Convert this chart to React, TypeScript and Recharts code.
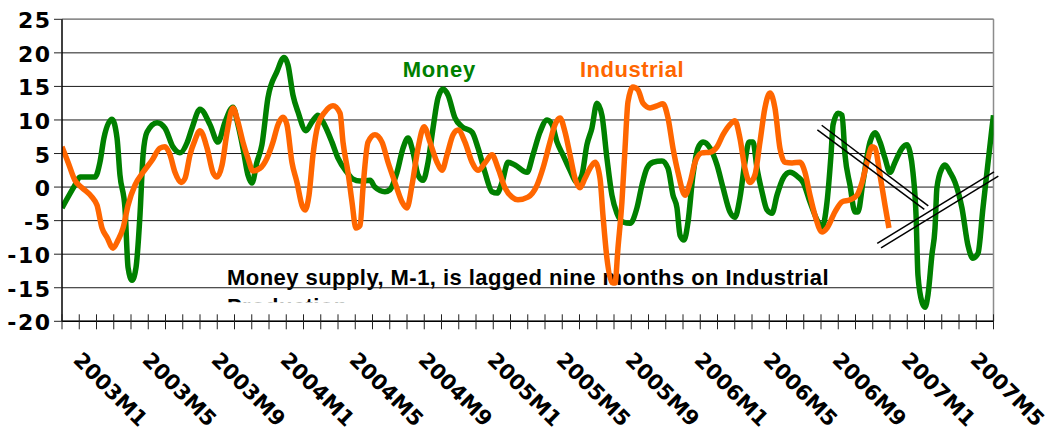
import React from "react";
import { CartesianGrid, Line, LineChart, ReferenceLine, XAxis, YAxis } from "recharts";

// x = months from the left edge of the plot (2003M1 sits at 0.5), y = % change
const monthLabels = [
  "2003M1", "2003M5", "2003M9", "2004M1", "2004M5", "2004M9", "2005M1",
  "2005M5", "2005M9", "2006M1", "2006M5", "2006M9", "2007M1", "2007M5",
];
const monthCount = 54;
const yTicks = [-20, -15, -10, -5, 0, 5, 10, 15, 20, 25];

const money: [number, number][] = [
  [0, -3.1], [0.75, 0.3], [1.04, 1.5], [1.91, 1.5], [2.2, 3.7], [2.43, 7.3], [2.9, 10.1],
  [3.19, 7.3], [3.36, 1.8], [3.65, -3.1], [3.83, -12], [4.06, -13.9], [4.29, -12], [4.52, -4.2],
  [4.7, 4.8], [4.93, 8.2], [5.51, 9.6], [5.97, 8.8], [6.43, 6.0], [6.84, 5.1], [7.25, 6.6],
  [7.54, 8.8], [8.0, 11.6], [8.58, 9.3], [9.04, 6.7], [9.45, 9.7], [9.91, 11.9], [10.2, 9.3],
  [10.49, 5.8], [10.78, 1.8], [11.01, 0.6], [11.3, 3.7], [11.59, 6.3], [11.94, 13.3], [12.46, 17.2],
  [12.87, 19.3], [13.1, 18.2], [13.39, 13.7], [13.68, 11.2], [14.14, 8.4], [14.49, 9.7], [14.84, 10.7],
  [15.13, 9.7], [15.65, 6.7], [16.0, 4.3], [16.52, 2.2], [16.87, 1.2], [17.28, 0.9], [17.86, 1.0],
  [18.14, 0], [18.72, -0.7], [19.01, -0.4], [19.42, 2.2], [19.77, 5.8], [20.06, 7.3], [20.35, 5.2],
  [20.64, 1.8], [20.93, 1.0], [21.22, 3.7], [21.51, 8.8], [21.8, 13.3], [22.09, 14.6], [22.38, 13.7],
  [22.78, 10.3], [23.19, 9.0], [23.77, 8.2], [24.12, 5.8], [24.52, 2.2], [24.93, -0.7], [25.22, -0.9],
  [25.51, 0.7], [25.86, 3.7], [26.26, 3.3], [26.96, 2.2], [27.3, 4.8], [27.71, 8.2], [28.12, 10.0],
  [28.41, 9.3], [28.7, 6.7], [29.04, 4.8], [29.45, 2.5], [29.86, 0.7], [30.14, 1.8], [30.43, 6.3],
  [30.72, 8.8], [31.01, 12.5], [31.3, 10.7], [31.59, 4.3], [31.88, -1.2], [32.17, -3.9], [32.52, -5.2],
  [32.93, -5.4], [33.33, -3.1], [33.62, 0.3], [33.91, 2.8], [34.26, 3.7], [34.78, 3.9], [35.13, 2.8],
  [35.42, -1.2], [35.65, -3.1], [35.83, -7.2], [36.06, -7.9], [36.29, -5.2], [36.58, 1.8], [36.87, 5.8],
  [37.16, 6.7], [37.57, 5.8], [37.97, 3.3], [38.32, -0.1], [38.72, -3.7], [39.01, -4.5], [39.3, -1.6],
  [39.59, 3.7], [39.83, 6.7], [40.06, 6.7], [40.29, 2.8], [40.58, -0.7], [40.87, -3.4], [41.16, -3.9],
  [41.45, -1.2], [41.8, 1.3], [42.2, 2.2], [42.67, 1.5], [42.96, 0.7], [43.36, -2.2], [43.77, -4.9],
  [44.06, -6.0], [44.35, -2.2], [44.58, 4.8], [44.7, 9.3], [44.99, 11.0], [45.22, 10.7], [45.39, 4.8],
  [45.68, 0.3], [45.97, -3.7], [46.14, -3.7], [46.43, 0.7], [46.84, 6.7], [47.13, 8.1], [47.42, 6.7],
  [47.71, 4.3], [48.0, 2.2], [48.29, 3.7], [48.7, 5.8], [48.99, 6.3], [49.16, 5.2], [49.33, 2.2],
  [49.51, -4.2], [49.62, -13.1], [49.86, -17.2], [50.03, -17.9], [50.2, -16.1], [50.43, -10.1], [50.61, -6.1],
  [50.72, -0.1], [51.01, 2.8], [51.19, 3.3], [51.48, 2.2], [51.77, 0.7], [52.17, -3.1], [52.52, -8.7],
  [52.81, -10.6], [53.1, -9.9], [53.39, -3.1], [53.62, 2.2], [53.91, 8.8], [54.0, 10.7],
];

const industrial: [number, number][] = [
  [0, 6.0], [0.35, 3.7], [0.75, 1.0], [1.16, -0.1], [1.74, -1.5], [2.03, -2.7], [2.32, -6.1],
  [2.61, -7.5], [2.96, -9.1], [3.25, -7.9], [3.54, -6.1], [3.83, -2.7], [4.23, 0.3], [4.7, 2.2],
  [5.22, 4.0], [5.68, 5.8], [5.97, 6.0], [6.26, 4.8], [6.55, 2.2], [6.9, 0.7], [7.13, 1.3],
  [7.42, 4.8], [7.71, 7.0], [8.0, 8.4], [8.41, 5.8], [8.75, 2.2], [8.99, 1.5], [9.28, 3.3],
  [9.57, 8.2], [9.91, 11.8], [10.2, 9.7], [10.49, 6.7], [10.78, 4.3], [11.07, 2.4], [11.48, 2.8],
  [11.88, 4.3], [12.23, 6.7], [12.52, 9.3], [12.81, 10.4], [13.04, 9.3], [13.33, 3.7], [13.62, 0.7],
  [13.91, -2.7], [14.09, -3.4], [14.32, -1.2], [14.55, 4.8], [14.84, 9.3], [15.25, 11.2], [15.71, 12.1],
  [16.12, 11.0], [16.29, 6.7], [16.58, 2.2], [16.81, -2.2], [17.04, -6.1], [17.28, -5.7], [17.45, -0.1],
  [17.74, 6.7], [18.14, 7.8], [18.55, 6.7], [18.9, 3.7], [19.3, 0.7], [19.71, -2.2], [20.0, -3.1],
  [20.29, 0.3], [20.64, 5.8], [20.99, 9.0], [21.33, 6.7], [21.74, 3.7], [22.03, 2.5], [22.32, 4.8],
  [22.67, 7.8], [22.96, 8.5], [23.36, 6.7], [23.77, 3.7], [24.12, 2.5], [24.52, 3.6], [24.93, 4.8],
  [25.28, 2.8], [25.68, -0.1], [26.09, -1.5], [26.43, -1.9], [27.01, -1.5], [27.54, 0.3], [27.88, 2.8],
  [28.29, 6.7], [28.58, 9.3], [28.87, 10.3], [29.16, 8.2], [29.45, 4.8], [29.74, 1.3], [30.03, -0.1],
  [30.32, 1.3], [30.61, 2.8], [30.9, 3.7], [31.19, 1.3], [31.36, -4.2], [31.59, -10.6], [31.88, -14.2],
  [32.06, -14.3], [32.23, -9.1], [32.46, -2.2], [32.64, 5.8], [32.81, 12.7], [33.1, 14.9], [33.39, 14.5],
  [33.68, 12.5], [34.09, 11.8], [34.49, 12.1], [34.84, 12.4], [35.13, 10.3], [35.42, 5.8], [35.71, 2.2],
  [36.12, -1.2], [36.41, 0.7], [36.7, 3.7], [37.1, 5.1], [37.57, 5.2], [37.97, 6.0], [38.32, 7.8],
  [38.72, 9.3], [39.01, 9.9], [39.3, 7.3], [39.59, 2.8], [39.88, 0.7], [40.17, 1.8], [40.46, 6.7],
  [40.75, 11.8], [41.04, 14.0], [41.33, 11.8], [41.62, 5.8], [41.91, 3.7], [42.32, 3.6], [42.78, 3.7],
  [43.07, 2.2], [43.36, -1.2], [43.65, -4.2], [44.06, -6.7], [44.35, -6.1], [44.81, -3.7], [45.22, -2.2],
  [45.68, -1.9], [46.09, -1.2], [46.38, 0.7], [46.67, 3.7], [46.96, 6.0], [47.13, 5.8], [47.42, 1.8],
  [47.71, -2.7], [47.94, -6.1],
];

// hand-drawn double trend lines
const trendLines: [number, number, number, number][] = [
  [44.04, 9.21, 50.22, -2.79],
  [43.79, 8.51, 49.99, -3.33],
  [47.26, -8.4, 54.03, 2.28],
  [47.48, -9.06, 54.28, 1.64],
];

const W = 1048;
const H = 430;
const PLOT_LEFT = 62;
const PLOT_RIGHT = 993.5;
const PLOT_TOP = 19.3;
const PLOT_BOTTOM = 321.3;
const CAT_W = (PLOT_RIGHT - PLOT_LEFT) / monthCount;

const GREEN = "#008000";
const ORANGE = "#ff6600";
const TICK_FONT = "'DejaVu Sans', Verdana, sans-serif";
const TEXT_FONT = "'Liberation Sans', Arial, sans-serif";

const moneyData = money.map(([m, v]) => ({ m, v }));
const industrialData = industrial.map(([m, v]) => ({ m, v }));
const xTicks = Array.from({ length: monthCount + 1 }, (_, i) => i);

function XTick(props: any) {
  const { x, y, payload } = props;
  const v = payload.value as number;
  const label = v % 4 === 0 && v < monthCount ? monthLabels[v / 4] : null;
  const lx = x + CAT_W / 2 + 1.5;
  const ly = y + 40;
  return (
    <g>
      <line x1={x} x2={x} y1={y - 7} y2={y + 8} stroke="#222" strokeWidth={1} />
      {label && (
        <text
          x={lx}
          y={ly}
          transform={`rotate(45 ${lx} ${ly})`}
          fontFamily={TICK_FONT}
          fontWeight="bold"
          fontSize={21}
          fill="#000"
        >
          {label}
        </text>
      )}
    </g>
  );
}

function YTick(props: any) {
  const { x, y, payload } = props;
  return (
    <text
      x={x + 1.5}
      y={y + 9}
      textAnchor="end"
      fontFamily={TICK_FONT}
      fontWeight="bold"
      fontSize={22}
      letterSpacing={1.5}
      fill="#000"
    >
      {payload.value}
    </text>
  );
}

export default function App() {
  return (
    <div style={{ position: "relative", width: W, height: H, background: "#fff" }}>
      <style>{`body { margin: 0; }`}</style>
      <svg width={W} height={H} style={{ position: "absolute", left: 0, top: 0 }}>
        <defs>
          <clipPath id="noteClip">
            <rect x={200} y={250} width={700} height={52.3} />
          </clipPath>
        </defs>
        <text x={402.7} y={76.7} fontFamily={TEXT_FONT} fontWeight="bold" fontSize={22}
          letterSpacing={0.7} fill={GREEN}>
          Money
        </text>
        <text x={580} y={76.7} fontFamily={TEXT_FONT} fontWeight="bold" fontSize={22}
          letterSpacing={0.5} fill={ORANGE}>
          Industrial
        </text>
        <g clipPath="url(#noteClip)" fontFamily={TEXT_FONT} fontWeight="bold" fontSize={22}
          letterSpacing={0.45} fill="#000">
          <text x={227} y={285}>Money supply, M-1, is lagged nine months on Industrial</text>
          <text x={227} y={313.7}>Production</text>
        </g>
      </svg>
      <div style={{ position: "relative" }}>
        <LineChart
          width={W}
          height={H}
          margin={{ top: PLOT_TOP, right: W - PLOT_RIGHT, left: 0, bottom: 0 }}
        >
          <CartesianGrid vertical={false} stroke="#1a1a1a" strokeWidth={1} />
          <XAxis
            dataKey="m"
            type="number"
            domain={[0, monthCount]}
            ticks={xTicks}
            interval={0}
            allowDataOverflow
            height={H - PLOT_BOTTOM}
            tickLine={false}
            tickSize={0}
            tickMargin={0}
            axisLine={{ stroke: "#000", strokeWidth: 1.5 }}
            tick={XTick}
          />
          <YAxis
            type="number"
            domain={[-20, 25]}
            ticks={yTicks}
            interval={0}
            width={PLOT_LEFT}
            tickSize={8}
            tickMargin={4}
            tickLine={{ stroke: "#222" }}
            axisLine={{ stroke: "#000", strokeWidth: 1.5 }}
            tick={YTick}
          />
          <ReferenceLine y={25} stroke="#8c8c8c" strokeWidth={1.5} />
          <ReferenceLine x={monthCount} stroke="#8c8c8c" strokeWidth={1.5} />
          <Line
            data={moneyData}
            dataKey="v"
            type="monotone"
            stroke={GREEN}
            strokeWidth={5.5}
            dot={false}
            activeDot={false}
            isAnimationActive={false}
          />
          <Line
            data={industrialData}
            dataKey="v"
            type="monotone"
            stroke={ORANGE}
            strokeWidth={5.5}
            dot={false}
            activeDot={false}
            isAnimationActive={false}
          />
          {trendLines.map(([x1, y1, x2, y2], i) => (
            <ReferenceLine
              key={i}
              segment={[{ x: x1, y: y1 }, { x: x2, y: y2 }]}
              stroke="#000"
              strokeWidth={1.5}
              ifOverflow="visible"
            />
          ))}
        </LineChart>
      </div>
    </div>
  );
}
